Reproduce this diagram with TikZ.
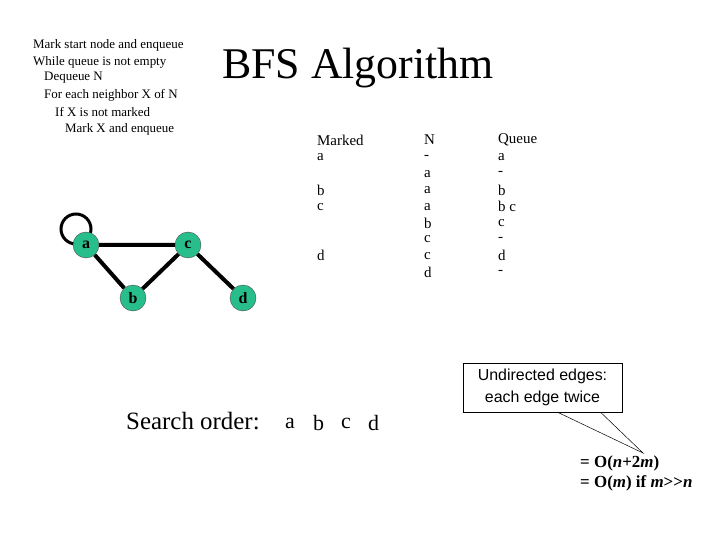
\documentclass[tikz,border=0pt]{standalone}
\usepackage{fontspec}
\setmainfont{Liberation Serif}
\newfontfamily\arialfont{Liberation Sans}
\begin{document}
\begin{tikzpicture}[x=1bp,y=-1bp,
  vertex/.style={circle,fill={rgb,255:red,40;green,190;blue,140},draw=black!70,inner sep=0pt,minimum size=26bp,font=\fontsize{16}{16}\selectfont\bfseries},
  edge/.style={line width=4bp},
  instr/.style={anchor=west,font=\fontsize{13}{14}\selectfont,inner sep=0pt},
  cell/.style={anchor=west,font=\fontsize{15}{15}\selectfont,inner sep=0pt}]
\useasboundingbox (0,0) rectangle (720,540);
% pseudocode
\node[instr] (l1) at (33,45) {Mark start node and enqueue};
\node[instr] (l2) at (33,62) {While queue is not empty};
\node[instr] (l3) at (44,78) {Dequeue N};
\node[instr] (l4) at (44,95) {For each neighbor X of N};
\node[instr] (l5) at (55,112) {If X is not marked};
\node[instr] (l6) at (65,129) {Mark X and enqueue};
\node[anchor=west,inner sep=0pt,font=\fontsize{44}{44}\selectfont] (title) at (222,68) {BFS Algorithm};
% graph
\draw[line width=3bp] (76,229) circle (15bp);
\node[vertex] (a) at (86,245) {a};
\node[vertex] (b) at (133,298) {b};
\node[vertex] (c) at (188,245) {c};
\node[vertex] (d) at (243,298) {d};
\draw[edge] (a) -- (c) (a) -- (b) (b) -- (c) (c) -- (d);
% table
\node[cell] (hm) at (317,140) {Marked};
\node[cell] (hn) at (424,140) {N};
\node[cell] (hq) at (498,140) {Queue};
\foreach \m/\r in {a/1,b/3,c/4,d/7}
  \node[cell] (m\r) at (317,141+16.4*\r) {\m};
\foreach \n [count=\r] in {-,a,a,a,b,c,c,d}
  \node[cell] (n\r) at (424,141+16.4*\r) {\n};
\foreach \q [count=\r] in {a,-,b,b c,c,-,d,-}
  \node[cell] (q\r) at (498,141+16.4*\r) {\q};
% search order
\node[anchor=west,inner sep=0pt,font=\fontsize{25}{25}\selectfont] (so) at (126,421) {Search order:};
\foreach \v/\x in {a/285,b/313,c/341,d/368}
  \node[anchor=west,inner sep=0pt,font=\fontsize{22}{22}\selectfont] (s\v) at (\x,423) {\v};
% callout
\node[draw,fill=white,align=center,inner sep=3bp,minimum width=159bp,minimum height=49bp,font=\arialfont\fontsize{16}{22}\selectfont] (note) at (542.5,387.5) {Undirected edges:\\each edge twice};
\coordinate (tip) at (643,453);
\draw[line width=0.5bp] ([xshift=15bp]note.south) -- (tip) -- ([xshift=58bp]note.south);
\node[anchor=west,inner sep=0pt,font=\fontsize{17}{20}\selectfont\bfseries,align=left] (eq) at (580,473) {= O(\textit{n}+2\textit{m})\\= O(\textit{m}) if \textit{m}>{}>\textit{n}};
\end{tikzpicture}
\end{document}
